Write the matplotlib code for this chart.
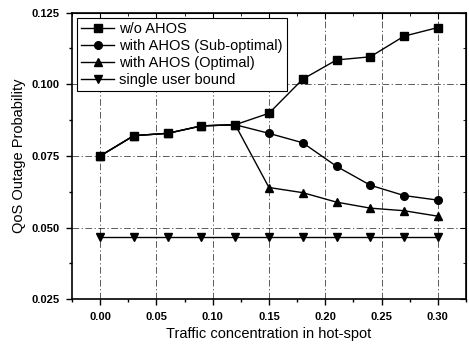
import numpy as np
import matplotlib
matplotlib.use("Agg")
import matplotlib.pyplot as plt
from matplotlib.ticker import MultipleLocator

plt.rcParams["font.family"] = ["Liberation Sans", "DejaVu Sans"]

# data
x = [0.00, 0.03, 0.06, 0.09, 0.12, 0.15, 0.18, 0.21, 0.24, 0.27, 0.30]
wo_ahos = [0.0750, 0.0821, 0.0829, 0.0855, 0.0859, 0.0899, 0.1018, 0.1085, 0.1096, 0.1168, 0.1198]
ahos_subopt = [0.0750, 0.0821, 0.0829, 0.0855, 0.0859, 0.0829, 0.0796, 0.0714, 0.0648, 0.0612, 0.0596]
ahos_opt = [0.0750, 0.0821, 0.0829, 0.0855, 0.0859, 0.0640, 0.0622, 0.0589, 0.0568, 0.0559, 0.0540]
bound = [0.0468] * 11

fig = plt.figure(figsize=(4.69, 3.47), dpi=100)
ax = fig.add_axes([0.1535, 0.1375, 0.84, 0.826])

style = dict(color="black", lw=1.0, ms=5.5)
ax.plot(x, wo_ahos, marker="s", label="w/o AHOS", **style)
ax.plot(x, ahos_subopt, marker="o", label="with AHOS (Sub-optimal)", **style)
ax.plot(x, ahos_opt, marker="^", label="with AHOS (Optimal)", **style)
ax.plot(x, bound, marker="v", label="single user bound", **style)

ax.set_xlim(-0.025, 0.325)
ax.set_ylim(0.025, 0.125)
ax.xaxis.set_major_locator(MultipleLocator(0.05))
ax.xaxis.set_minor_locator(MultipleLocator(0.025))
ax.yaxis.set_major_locator(MultipleLocator(0.025))
ax.yaxis.set_minor_locator(MultipleLocator(0.0125))
ax.set_xticks(np.arange(0, 0.31, 0.05))
ax.set_xticklabels(["%.2f" % v for v in np.arange(0, 0.31, 0.05)])
ax.set_yticklabels(["%.3f" % v for v in ax.get_yticks()])

ax.grid(True, which="major", color="black", linestyle=(0, (8, 3, 1.5, 3)), lw=0.6, alpha=0.75)
ax.tick_params(which="both", direction="out", labelsize=8, width=1)
ax.tick_params(which="major", length=4, pad=5)
ax.tick_params(which="minor", length=2.5)
for lab in ax.get_xticklabels() + ax.get_yticklabels():
    lab.set_fontweight("bold")

# inward ticks on top and right
top = ax.secondary_xaxis("top")
top.xaxis.set_major_locator(MultipleLocator(0.05))
top.xaxis.set_minor_locator(MultipleLocator(0.025))
top.tick_params(which="both", direction="in", labeltop=False)
top.tick_params(which="major", length=4)
top.tick_params(which="minor", length=2.5)
right = ax.secondary_yaxis("right")
right.yaxis.set_major_locator(MultipleLocator(0.025))
right.yaxis.set_minor_locator(MultipleLocator(0.0125))
right.tick_params(which="both", direction="in", labelright=False)
right.tick_params(which="major", length=4)
right.tick_params(which="minor", length=2.5)

for sp in ax.spines.values():
    sp.set_linewidth(1.2)

ax.set_xlabel("Traffic concentration in hot-spot", fontsize=10.5)
ax.set_ylabel("QoS Outage Probability", fontsize=10.5)

leg = ax.legend(loc="upper left", fontsize=10.5, frameon=True, fancybox=False,
                edgecolor="black", framealpha=1, handlelength=2.2,
                handletextpad=0.4, borderaxespad=0.35, labelspacing=0.2,
                borderpad=0.3)
leg.get_frame().set_linewidth(0.8)

fig.savefig("out.png", dpi=100)
